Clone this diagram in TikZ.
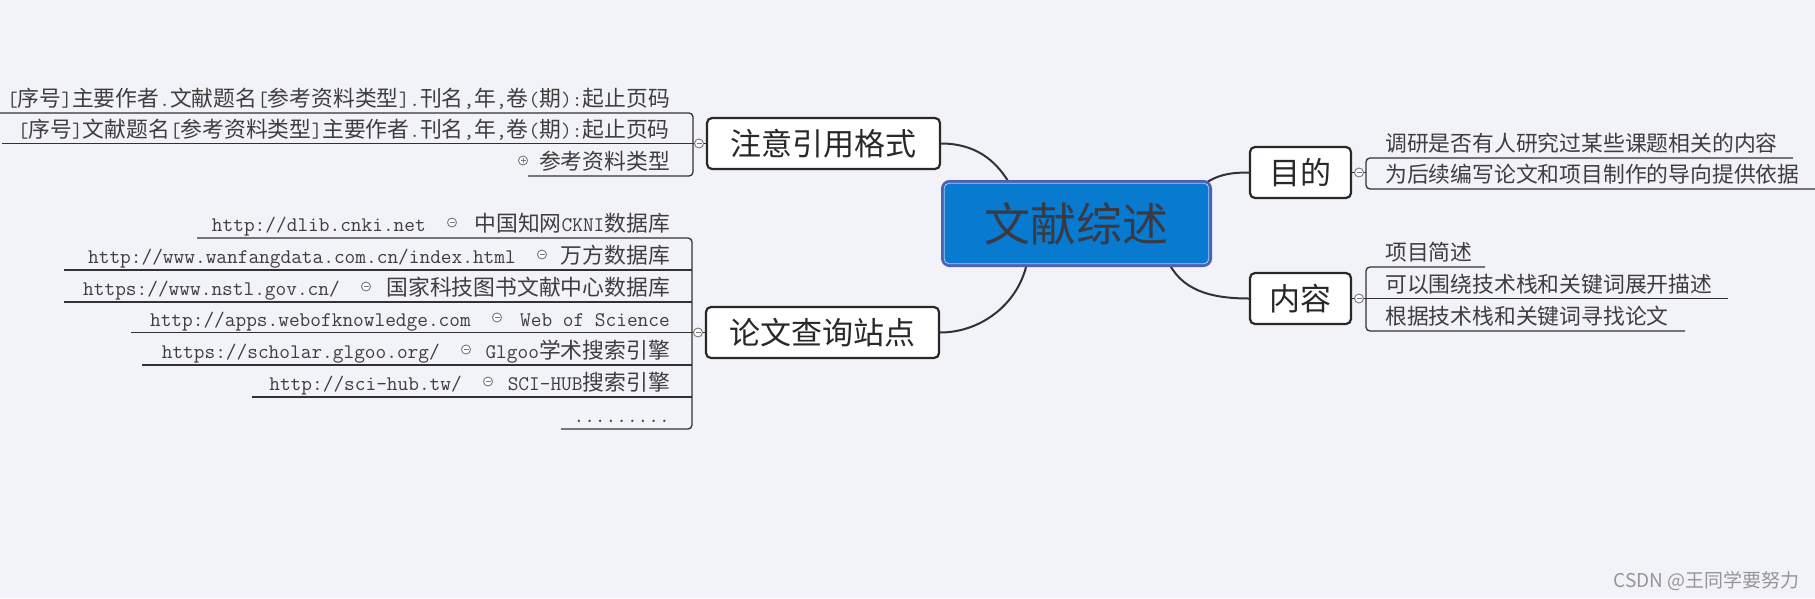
\documentclass[tikz,border=0pt]{standalone}
\usepackage{fontspec}
\setmainfont{Noto Sans CJK SC}
\usetikzlibrary{calc}
\definecolor{bgc}{RGB}{242,242,249}
\definecolor{mainfill}{RGB}{8,122,208}
\definecolor{mainborder}{RGB}{78,96,180}
\definecolor{hlc}{RGB}{165,205,242}
\definecolor{linec}{RGB}{50,50,50}
\definecolor{boxc}{RGB}{40,40,40}
\definecolor{txt}{RGB}{62,62,62}
\definecolor{toptxt}{RGB}{40,40,40}
\definecolor{maintxt}{RGB}{58,58,66}
\definecolor{collc}{RGB}{120,120,120}
\definecolor{wmc}{RGB}{150,150,150}
\newcommand\hw[1]{{\ttfamily\fontsize{20.76pt}{26pt}\selectfont #1}}
\newcommand\leaffont{\fontsize{21.8pt}{26pt}\selectfont}
\pgfdeclarelayer{back}
\pgfdeclarelayer{lines}
\pgfsetlayers{back,lines,main}
\begin{document}
\begin{tikzpicture}[x=1pt,y=-1pt,
  leaf/.style={inner sep=0pt, text=txt, font=\leaffont},
  topic/.style={rectangle, rounded corners=5pt, draw=boxc, line width=2.2pt, fill=white,
    text=toptxt, font=\fontsize{31pt}{34pt}\selectfont, inner sep=0pt},
  mainbox/.style={rectangle, rounded corners=7pt, draw=mainborder, line width=3pt, fill=mainfill,
    text=maintxt, font=\fontsize{46pt}{50pt}\selectfont, inner sep=0pt,
    minimum width=268pt, minimum height=84pt},
  coll/.style={circle, draw=collc, fill=white, line width=0.9pt, minimum size=9pt, inner sep=0pt,
    path picture={\draw[collc, line width=0.8pt]
      ($(path picture bounding box.center)+(-2.5pt,0pt)$) -- ($(path picture bounding box.center)+(2.5pt,0pt)$);}},
  collp/.style={circle, draw=collc, fill=white, line width=0.9pt, minimum size=9pt, inner sep=0pt,
    path picture={\draw[collc, line width=0.8pt]
      ($(path picture bounding box.center)+(-2.5pt,0pt)$) -- ($(path picture bounding box.center)+(2.5pt,0pt)$)
      ($(path picture bounding box.center)+(0pt,-2.5pt)$) -- ($(path picture bounding box.center)+(0pt,2.5pt)$);}},
  uline/.style={draw=linec, line width=1.3pt},
  conn/.style={draw=linec, line width=2pt}]
\useasboundingbox (0,0) rectangle (1815,598);
\begin{pgfonlayer}{back}
\fill[bgc] (0,0) rectangle (1815,598);
\end{pgfonlayer}

% central and topic nodes
\node[mainbox] (main) at (1076.5,223.5) {文献综述};
\draw[hlc, line width=0.8pt, rounded corners=5pt]
  ([shift={(3.2pt,-3.2pt)}]main.north west) rectangle ([shift={(-3.2pt,3.2pt)}]main.south east);
\node[topic, minimum width=233pt, minimum height=51pt] (cite) at (823.5,143.5) {注意引用格式};
\node[topic, minimum width=233pt, minimum height=51pt] (site) at (822.5,332.5) {论文查询站点};
\node[topic, minimum width=101pt, minimum height=51pt] (purp) at (1300.5,172.5) {目的};
\node[topic, minimum width=101pt, minimum height=51pt] (cont) at (1300.5,298.5) {内容};

% group: citation format
\node[leaf, anchor=base east] (a1) at (670,106) {\hw{[}序号\hw{]}主要作者\hw{.}文献题名\hw{[}参考资料类型\hw{].}刊名\hw{,}年\hw{,}卷\hw{(}期\hw{):}起止页码};
\node[leaf, anchor=base east] (a2) at (670,137) {\hw{[}序号\hw{]}文献题名\hw{[}参考资料类型\hw{]}主要作者\hw{.}刊名\hw{,}年\hw{,}卷\hw{(}期\hw{):}起止页码};
\node[leaf, anchor=base east] (a3) at (670,169) {参考资料类型};
\node[collp] (a3c) at (523,160.5) {};
\node[coll] (ac) at (699,143.5) {};

% group: search sites
\node[leaf, anchor=base east] (b1) at (670,231) {中国知网\hw{CKNI}数据库};
\node[coll] (b1c) at (452,222.5) {};
\node[leaf, anchor=base east] (b1u) at (426,231) {\hw{http://dlib.cnki.net}};
\node[leaf, anchor=base east] (b2) at (670,263) {万方数据库};
\node[coll] (b2c) at (542,254.5) {};
\node[leaf, anchor=base east] (b2u) at (516,263) {\hw{http://www.wanfangdata.com.cn/index.html}};
\node[leaf, anchor=base east] (b3) at (670,295) {国家科技图书文献中心数据库};
\node[coll] (b3c) at (366,286.5) {};
\node[leaf, anchor=base east] (b3u) at (340,295) {\hw{https://www.nstl.gov.cn/}};
\node[leaf, anchor=base east] (b4) at (670,326) {\hw{Web of Science}};
\node[coll] (b4c) at (497,317.5) {};
\node[leaf, anchor=base east] (b4u) at (471,326) {\hw{http://apps.webofknowledge.com}};
\node[leaf, anchor=base east] (b5) at (670,358) {\hw{Glgoo}学术搜索引擎};
\node[coll] (b5c) at (466,349.5) {};
\node[leaf, anchor=base east] (b5u) at (440,358) {\hw{https://scholar.glgoo.org/}};
\node[leaf, anchor=base east] (b6) at (670,390) {\hw{SCI-HUB}搜索引擎};
\node[coll] (b6c) at (488,381.5) {};
\node[leaf, anchor=base east] (b6u) at (462,390) {\hw{http://sci-hub.tw/}};
\node[leaf, anchor=base east] (b7) at (670,422) {\hw{.........}};
\node[coll] (bc) at (698,332.5) {};

% group: purpose
\node[leaf, anchor=base west] (p1) at (1385,151) {调研是否有人研究过某些课题相关的内容};
\node[leaf, anchor=base west] (p2) at (1385,182) {为后续编写论文和项目制作的导向提供依据};
\node[coll] (pc) at (1359,172.5) {};

% group: content
\node[leaf, anchor=base west] (q1) at (1385,260) {项目简述};
\node[leaf, anchor=base west] (q2) at (1385,292) {可以围绕技术栈和关键词展开描述};
\node[leaf, anchor=base west] (q3) at (1385,324) {根据技术栈和关键词寻找论文};
\node[coll] (qc) at (1359,298.5) {};

% watermark
\node[anchor=base east, text=wmc, font=\fontsize{19pt}{22pt}\selectfont, inner sep=0pt] (wm) at (1800,587) {CSDN @王同学要努力};

\begin{pgfonlayer}{lines}
% connectors from the central topic
\draw[conn] (cite.east) .. controls (975,143.5) and (995,160) .. ([shift={(67pt,-1pt)}]main.north west);
\draw[conn] (site.east) .. controls (980,332.5) and (1018,305) .. ([shift={(86pt,4pt)}]main.south west);
\draw[conn] ([shift={(-15pt,-9pt)}]main.north east) .. controls (1215,175) and (1228,172.5) .. (purp.west);
\draw[conn] ([shift={(-45pt,8pt)}]main.south east) .. controls (1180,290) and (1210,298.5) .. (cont.west);

% citation group underlines and bracket
\draw[uline, rounded corners=4pt] (0,113) -- (693,113) -- (693,176) -- (528,176);
\draw[uline] (2,143.5) -- (693,143.5) -- (ac) -- (cite.west);

% search group underlines and bracket
\draw[uline, rounded corners=4pt] (197,238) -- (692,238) -- (692,429) -- (561,429);
\draw[uline] (64,270) -- (692,270);
\draw[uline] (64,302) -- (692,302);
\draw[uline] (131,332.5) -- (692,332.5) -- (bc) -- (site.west);
\draw[uline] (142,365) -- (692,365);
\draw[uline] (252,397) -- (692,397);

% purpose bracket
\draw[uline, rounded corners=4pt] (1793,158) -- (1366,158) -- (1366,189) -- (1815,189);
\draw[uline] (purp.east) -- (pc) -- (1366,172.5);

% content bracket
\draw[uline, rounded corners=4pt] (1485,267) -- (1366,267) -- (1366,331) -- (1685,331);
\draw[uline] (cont.east) -- (qc) -- (1366,298.5) -- (1728,298.5);
\end{pgfonlayer}
\end{tikzpicture}
\end{document}
